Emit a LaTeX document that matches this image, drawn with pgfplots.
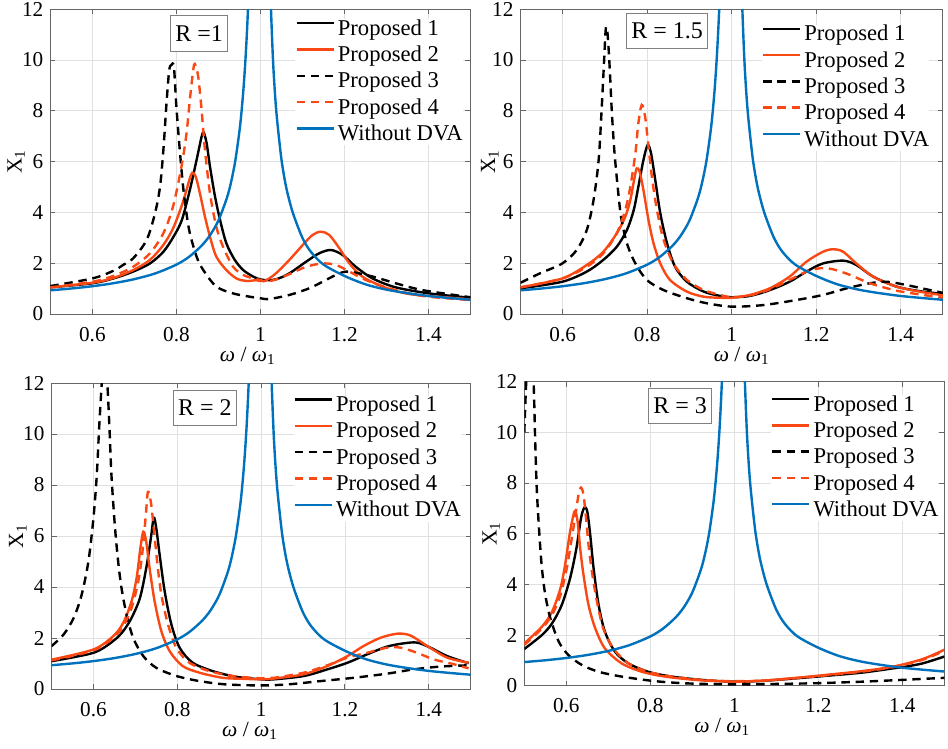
\documentclass[border=0pt]{standalone}
\usepackage{fontspec}
\setmainfont{Liberation Serif}
\usepackage{pgfplots}
\usepackage{pgfplotstable}
\pgfplotsset{compat=1.18}
\definecolor{cblue}{RGB}{0,114,189}
\definecolor{cred}{RGB}{250,72,20}

\pgfplotstableread{
x y
0.50 0.933
0.55 1.004
0.60 1.094
0.65 1.212
0.70 1.373
0.75 1.600
0.80 1.944
0.83 2.25
0.86 2.69
0.88 3.10
0.90 3.68
0.92 4.56
0.93 5.18
0.94 6.01
0.95 7.18
0.955 7.96
0.96 8.93
0.965 10.18
0.97 11.84
0.975 14.2
1.022 14.0
1.025 12.1
1.03 10.0
1.035 8.6
1.04 7.6
1.05 6.1
1.06 5.1
1.07 4.4
1.08 3.85
1.10 3.0
1.12 2.45
1.15 1.95
1.20 1.50
1.25 1.17
1.30 0.96
1.35 0.82
1.40 0.71
1.45 0.63
1.50 0.56
}\bluedata

\tikzset{
  sP1/.style={draw=black, line width=1.2pt, smooth, tension=0.5, mark=none},
  sP2/.style={draw=cred, line width=1.2pt, smooth, tension=0.5, mark=none},
  sP3/.style={draw=black, line width=1.2pt, dash pattern=on 4.2pt off 2.9pt, smooth, tension=0.5, mark=none},
  sP4/.style={draw=cred, line width=1.2pt, dash pattern=on 4.2pt off 2.9pt, smooth, tension=0.5, mark=none},
  sB/.style={draw=cblue, line width=1.2pt, smooth, tension=0.5, mark=none},
  rbox/.style={draw=black!50, fill=white, line width=0.5pt, inner xsep=2.5pt, inner ysep=0pt, minimum height=17.8pt, font=\fontsize{12}{14}\selectfont, text=black},
}

\pgfplotsset{
  panel/.style={
    scale only axis,
    xmin=0.5, xmax=1.5, ymin=0, ymax=12,
    xtick={0.6,0.8,1,1.2,1.4},
    ytick={0,2,4,6,8,10,12},
    grid=major,
    major grid style={draw=black!12, line width=0.35pt},
    axis line style={draw=black!60, line width=0.45pt},
    tick style={draw=black!60, line width=0.45pt},
    tick align=inside,
    major tick length=2.5pt,
    /pgf/number format/assume math mode=true,
    ticklabel style={font=\fontsize{10.6}{12}\selectfont, text=black},
    xticklabel style={yshift=-3pt},
    label style={font=\fontsize{10.8}{13}\selectfont, text=black, inner sep=0pt},
    ylabel={X\textsubscript{1}},
    xlabel={\textit{ω} / \textit{ω}\textsubscript{1}},
    legend cell align=left,
    legend image code/.code={\draw[##1] (0pt,3.3pt) -- (18.5pt,3.3pt);},
    legend style={draw=none, fill=white, inner sep=0pt, anchor=north west,
      font=\fontsize{11.3}{13}\selectfont, text=black,
      nodes={inner sep=0pt, text height=8pt, text depth=2.5pt},
      row sep=2.65pt, column sep=1.5pt},
    legend entries={Proposed 1,Proposed 2,Proposed 3,Proposed 4,Without DVA},
  }
}

\begin{document}
\begin{tikzpicture}
\path[use as bounding box] (0,0) rectangle (474pt,-374.5pt);

% ---------------- R = 1 ----------------
\begin{axis}[panel, at={(25.2pt,-157pt)}, anchor=south west, width=210pt, height=152.4pt,
  legend style={at={(0.5826,1)}, yshift=-4.8pt},
  ylabel style={at={([xshift=-12.6pt]axis description cs:0,0.5)}, anchor=south},
  xlabel style={at={([xshift=-6.3pt,yshift=-23.5pt]axis description cs:0.5,0)}, anchor=base}]
\addplot[sP1] coordinates {
(0.50,1.05) (0.60,1.21) (0.65,1.40) (0.697,1.67) (0.737,1.99) (0.769,2.45) (0.793,3.04)
(0.813,3.70) (0.832,4.88) (0.848,6.06) (0.860,6.98) (0.865,7.14) (0.872,6.72) (0.880,5.80)
(0.892,4.62) (0.904,3.70) (0.919,2.78) (0.939,2.13) (0.959,1.73) (0.983,1.47) (1.000,1.36)
(1.02,1.33) (1.04,1.38) (1.069,1.60) (1.109,2.06) (1.140,2.39) (1.168,2.52) (1.196,2.32)
(1.227,1.86) (1.267,1.40) (1.322,1.05) (1.402,0.81) (1.50,0.64)};
\addplot[sP2] coordinates {
(0.50,1.05) (0.60,1.23) (0.65,1.42) (0.697,1.73) (0.737,2.13) (0.769,2.72) (0.792,3.37)
(0.812,4.23) (0.824,4.88) (0.832,5.34) (0.838,5.56) (0.846,5.41) (0.856,4.75) (0.868,3.83)
(0.880,3.04) (0.895,2.26) (0.919,1.73) (0.943,1.40) (0.967,1.30) (0.99,1.33) (1.01,1.30)
(1.037,1.60) (1.069,2.13) (1.101,2.72) (1.124,3.11) (1.144,3.24) (1.164,3.11) (1.188,2.59)
(1.212,1.99) (1.243,1.47) (1.291,1.08) (1.346,0.81) (1.402,0.71) (1.50,0.58)};
\addplot[sP3] coordinates {
(0.50,1.10) (0.60,1.40) (0.65,1.70) (0.673,1.93) (0.697,2.19) (0.729,2.91) (0.749,3.96)
(0.761,5.01) (0.769,6.46) (0.777,8.43) (0.783,9.61) (0.788,9.80) (0.794,9.74) (0.800,8.16)
(0.808,6.46) (0.816,5.01) (0.824,3.96) (0.832,3.18) (0.848,2.26) (0.864,1.73) (0.895,1.08)
(0.935,0.81) (0.975,0.68) (1.00,0.62) (1.021,0.59) (1.069,0.75) (1.116,1.01) (1.148,1.27)
(1.18,1.54) (1.204,1.67) (1.235,1.60) (1.275,1.44) (1.322,1.21) (1.386,0.94) (1.50,0.66)};
\addplot[sP4] coordinates {
(0.50,1.05) (0.60,1.27) (0.65,1.50) (0.697,1.86) (0.737,2.39) (0.769,3.18) (0.792,4.23)
(0.812,5.80) (0.824,7.10) (0.832,8.43) (0.840,9.60) (0.844,9.84) (0.852,9.34) (0.860,8.03)
(0.868,6.46) (0.880,4.75) (0.895,3.44) (0.911,2.65) (0.935,1.86) (0.959,1.54) (0.983,1.40)
(1.00,1.34) (1.013,1.27) (1.037,1.36) (1.069,1.57) (1.109,1.86) (1.148,1.99) (1.18,1.93)
(1.212,1.67) (1.251,1.34) (1.307,1.01) (1.386,0.71) (1.50,0.55)};
\addplot[sB] table[x=x,y=y] {\bluedata};
\node[rbox] at (axis cs:0.854,11.04) {R =1};
\end{axis}

% ---------------- R = 1.5 ----------------
\begin{axis}[panel, at={(260.25pt,-157pt)}, anchor=south west, width=211.2pt, height=152.4pt,
  legend style={at={(0.5707,1)}, yshift=-7.6pt},
  ylabel style={at={([xshift=-10.8pt]axis description cs:0,0.5)}, anchor=south},
  xlabel style={at={([xshift=5pt,yshift=-23.5pt]axis description cs:0.5,0)}, anchor=base}]
\addplot[sP1] coordinates {
(0.50,1.01) (0.599,1.27) (0.657,1.67) (0.696,2.13) (0.728,2.65) (0.752,3.31) (0.768,4.09)
(0.779,5.01) (0.791,6.06) (0.801,6.65) (0.809,6.33) (0.819,5.28) (0.831,3.96) (0.847,2.78)
(0.866,1.86) (0.894,1.27) (0.934,0.88) (0.973,0.71) (1.00,0.66) (1.043,0.71) (1.09,0.94)
(1.137,1.27) (1.177,1.67) (1.216,1.99) (1.264,2.10) (1.295,1.93) (1.335,1.47) (1.39,1.08)
(1.445,0.90) (1.50,0.79)};
\addplot[sP2] coordinates {
(0.50,1.05) (0.599,1.40) (0.657,1.93) (0.696,2.45) (0.728,3.18) (0.748,3.83) (0.760,4.49)
(0.769,5.28) (0.775,5.73) (0.782,5.60) (0.791,4.88) (0.803,3.70) (0.815,2.78) (0.831,1.99)
(0.854,1.34) (0.894,0.88) (0.934,0.68) (0.973,0.64) (1.00,0.64) (1.043,0.75) (1.09,1.01)
(1.137,1.47) (1.177,2.06) (1.216,2.45) (1.240,2.55) (1.264,2.45) (1.295,1.99) (1.335,1.47)
(1.39,1.08) (1.445,0.88) (1.50,0.74)};
\addplot[sP3] coordinates {
(0.50,1.23) (0.546,1.60) (0.599,1.99) (0.633,2.52) (0.657,3.31) (0.673,4.49) (0.685,6.06)
(0.692,8.03) (0.698,10.0) (0.702,11.25) (0.706,11.05) (0.711,9.74) (0.716,8.03) (0.722,6.46)
(0.730,5.01) (0.738,3.83) (0.752,2.78) (0.772,1.99) (0.799,1.34) (0.839,0.94) (0.894,0.62)
(0.942,0.42) (1.00,0.29) (1.074,0.35) (1.153,0.55) (1.216,0.75) (1.272,1.01) (1.327,1.21)
(1.367,1.27) (1.414,1.14) (1.50,0.83)};
\addplot[sP4] coordinates {
(0.50,1.05) (0.599,1.40) (0.657,1.86) (0.696,2.39) (0.728,3.18) (0.748,4.09) (0.760,5.01)
(0.772,6.33) (0.779,7.51) (0.787,8.23) (0.795,7.77) (0.803,6.59) (0.811,5.41) (0.823,4.09)
(0.839,2.91) (0.862,1.99) (0.894,1.34) (0.934,0.94) (0.973,0.75) (1.00,0.66) (1.043,0.73)
(1.09,0.97) (1.137,1.34) (1.177,1.67) (1.209,1.80) (1.240,1.76) (1.28,1.54) (1.327,1.21)
(1.39,0.92) (1.445,0.77) (1.50,0.64)};
\addplot[sB] table[x=x,y=y] {\bluedata};
\node[rbox] at (axis cs:0.847,11.14) {R = 1.5};
\end{axis}

% ---------------- R = 2 ----------------
\begin{axis}[panel, at={(25.75pt,-344.5pt)}, anchor=south west, width=209.6pt, height=153pt,
  legend style={at={(0.5767,1)}, yshift=-6.1pt},
  ylabel style={at={([xshift=-12.3pt]axis description cs:0,0.5)}, anchor=south},
  xlabel style={at={([xshift=-5.5pt,yshift=-23.5pt]axis description cs:0.5,0)}, anchor=base}]
\addplot[sP1] coordinates {
(0.50,1.09) (0.600,1.42) (0.647,1.88) (0.671,2.27) (0.691,2.79) (0.711,3.57) (0.726,4.74)
(0.737,5.91) (0.744,6.72) (0.750,6.30) (0.758,5.26) (0.770,3.83) (0.786,2.53) (0.806,1.61)
(0.837,1.03) (0.885,0.70) (0.940,0.48) (1.00,0.38) (1.031,0.38) (1.102,0.51) (1.158,0.77)
(1.206,1.03) (1.253,1.36) (1.30,1.66) (1.34,1.79) (1.372,1.82) (1.404,1.62) (1.444,1.29)
(1.495,1.01)};
\addplot[sP2] coordinates {
(0.50,1.15) (0.600,1.55) (0.647,2.07) (0.671,2.59) (0.691,3.44) (0.703,4.35) (0.712,5.52)
(0.719,6.17) (0.726,5.78) (0.734,4.74) (0.746,3.44) (0.762,2.27) (0.782,1.48) (0.813,0.90)
(0.853,0.64) (0.908,0.44) (0.956,0.40) (1.00,0.38) (1.031,0.41) (1.102,0.58) (1.158,0.90)
(1.206,1.29) (1.245,1.69) (1.285,2.01) (1.325,2.17) (1.356,2.10) (1.396,1.69) (1.444,1.23)
(1.495,1.03)};
\addplot[sP3] coordinates {
(0.50,1.68) (0.529,2.14) (0.553,2.79) (0.572,3.70) (0.588,5.00) (0.600,6.69) (0.608,8.39)
(0.614,10.34) (0.620,12.03) (0.626,13.5) (0.633,12.03) (0.638,10.34) (0.643,8.39) (0.651,6.43)
(0.659,5.00) (0.667,3.96) (0.679,2.92) (0.695,2.00) (0.719,1.29) (0.750,0.83) (0.798,0.51)
(0.853,0.31) (0.916,0.18) (1.00,0.14) (1.063,0.18) (1.142,0.31) (1.221,0.44) (1.30,0.60)
(1.364,0.77) (1.428,0.88) (1.495,0.93)};
\addplot[sP4] coordinates {
(0.50,1.12) (0.600,1.51) (0.647,2.00) (0.671,2.46) (0.691,3.18) (0.707,4.22) (0.717,5.39)
(0.725,6.82) (0.730,7.73) (0.737,7.34) (0.744,6.30) (0.752,5.00) (0.762,3.70) (0.778,2.53)
(0.798,1.61) (0.829,1.03) (0.877,0.70) (0.932,0.51) (1.00,0.42) (1.031,0.44) (1.102,0.64)
(1.158,0.93) (1.206,1.23) (1.253,1.42) (1.30,1.62) (1.333,1.62) (1.372,1.42) (1.412,1.16)
(1.46,0.97) (1.495,0.81)};
\addplot[sB] table[x=x,y=y] {\bluedata};
\node[rbox] at (axis cs:0.866,11.02) {R = 2};
\end{axis}

% ---------------- R = 3 ----------------
\begin{axis}[panel, at={(262.15pt,-342.85pt)}, anchor=south west, width=210pt, height=152pt,
  legend style={at={(0.5867,1)}, yshift=-6.5pt},
  ylabel style={at={([xshift=-12pt]axis description cs:0,0.5)}, anchor=south},
  xlabel style={at={([xshift=-6pt,yshift=-23.5pt]axis description cs:0.5,0)}, anchor=base}]
\addplot[sP1] coordinates {
(0.50,1.45) (0.542,2.00) (0.566,2.46) (0.589,3.18) (0.609,4.24) (0.624,5.42) (0.635,6.61)
(0.643,7.03) (0.650,6.87) (0.657,5.95) (0.665,4.63) (0.677,3.18) (0.692,2.13) (0.716,1.34)
(0.748,0.88) (0.795,0.55) (0.851,0.36) (0.930,0.22) (1.00,0.16) (1.067,0.19) (1.147,0.29)
(1.226,0.40) (1.306,0.52) (1.385,0.70) (1.40,0.73) (1.448,0.88) (1.50,1.15)};
\addplot[sP2] coordinates {
(0.50,1.67) (0.542,2.33) (0.566,2.92) (0.586,3.84) (0.597,4.76) (0.609,6.08) (0.620,6.89)
(0.627,6.47) (0.633,5.42) (0.641,4.37) (0.653,3.18) (0.669,2.26) (0.692,1.47) (0.732,0.88)
(0.780,0.55) (0.835,0.36) (0.914,0.22) (1.00,0.16) (1.067,0.20) (1.147,0.31) (1.226,0.44)
(1.306,0.58) (1.38,0.76) (1.448,1.05) (1.50,1.42)};
\addplot[sP3] coordinates {
(0.500,10.0) (0.506,12.5) (0.514,14.0) (0.522,12.0) (0.526,9.63) (0.530,7.66) (0.536,5.95)
(0.542,4.63) (0.550,3.58) (0.562,2.66) (0.582,1.74) (0.605,1.21) (0.637,0.82) (0.677,0.55)
(0.732,0.36) (0.811,0.18) (0.890,0.09) (1.00,0.05) (1.10,0.07) (1.20,0.10) (1.306,0.16)
(1.40,0.23) (1.50,0.31)};
\addplot[sP4] coordinates {
(0.50,1.61) (0.542,2.26) (0.566,2.79) (0.586,3.58) (0.601,4.63) (0.613,5.82) (0.623,6.87)
(0.629,7.53) (0.635,7.82) (0.641,7.53) (0.647,6.61) (0.653,5.55) (0.661,4.50) (0.673,3.32)
(0.688,2.26) (0.712,1.47) (0.748,0.88) (0.795,0.55) (0.851,0.36) (0.930,0.22) (1.00,0.18)
(1.067,0.20) (1.147,0.30) (1.226,0.42) (1.306,0.56) (1.38,0.74) (1.448,1.02) (1.50,1.38)};
\addplot[sB] table[x=x,y=y] {\bluedata};
\node[rbox] at (axis cs:0.871,11.04) {R = 3};
\end{axis}
\end{tikzpicture}
\end{document}
